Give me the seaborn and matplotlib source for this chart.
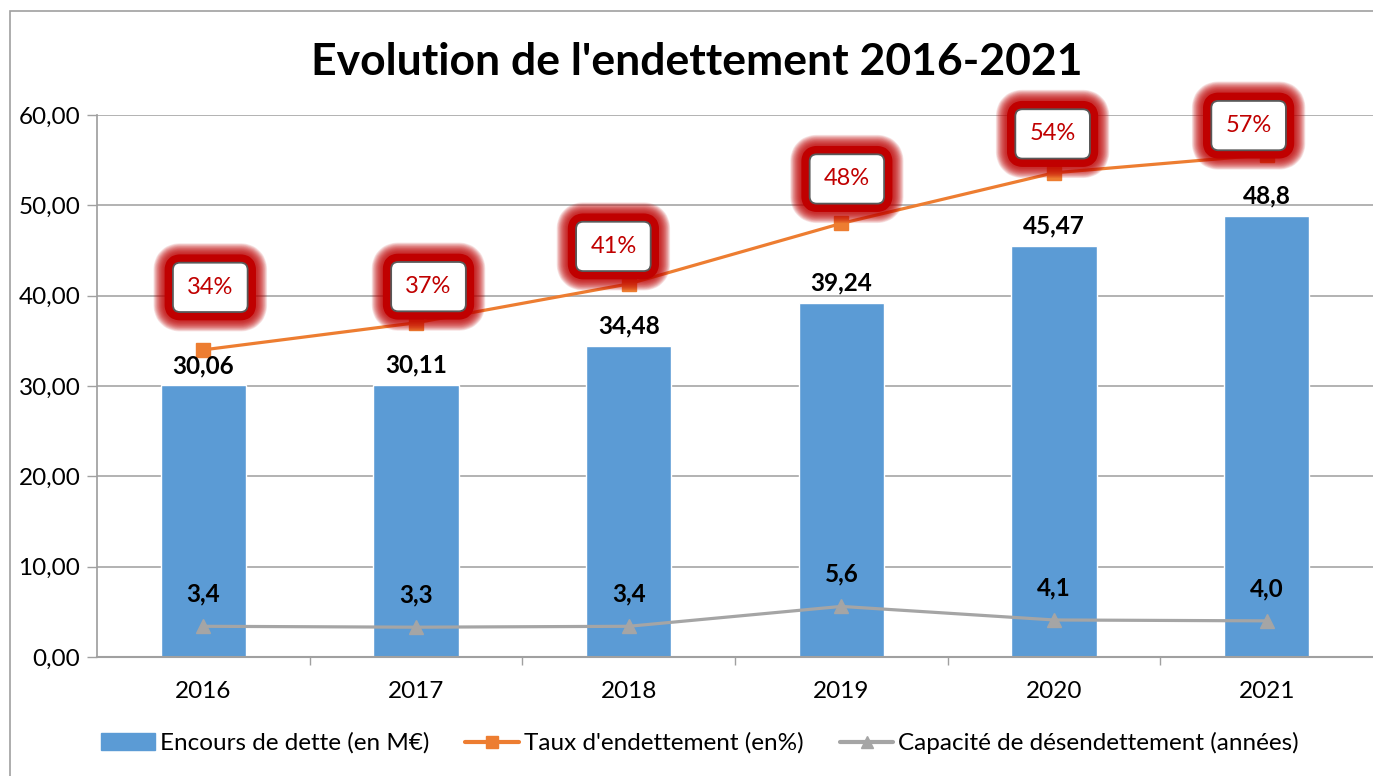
import numpy as np
import pandas as pd
import matplotlib
matplotlib.use("Agg")
import matplotlib.pyplot as plt
import matplotlib.patheffects as pe
from matplotlib.lines import Line2D
from matplotlib.patches import Patch, Rectangle
import seaborn as sns

# ---- data ----
years = ["2016", "2017", "2018", "2019", "2020", "2021"]
encours = [30.06, 30.11, 34.48, 39.24, 45.47, 48.8]
encours_labels = ["30,06", "30,11", "34,48", "39,24", "45,47", "48,8"]
taux = [34.0, 37.0, 41.3, 48.0, 53.6, 55.6]
taux_labels = ["34%", "37%", "41%", "48%", "54%", "57%"]
capacite = [3.4, 3.3, 3.4, 5.6, 4.1, 4.0]
capacite_labels = ["3,4", "3,3", "3,4", "5,6", "4,1", "4,0"]

# label box offsets (points) for the percentage callouts
taux_offsets = [(5, 45), (9, 26), (-11, 27), (4, 32), (-1, 28), (-13, 21)]

BLUE = "#5B9BD5"
ORANGE = "#ED7D31"
GREY = "#A5A5A5"
RED = "#C00000"

sns.set_theme(style="white")
plt.rcParams["font.family"] = ["Lato", "DejaVu Sans"]
plt.rcParams["text.color"] = "black"

df = pd.DataFrame({"annee": years, "encours": encours})

fig = plt.figure(figsize=(13.73, 7.76), dpi=100)
ax = fig.add_axes([97 / 1373, 1 - 657 / 776, 1 - 97 / 1373, (657 - 115) / 776])

sns.barplot(data=df, x="annee", y="encours", color=BLUE, saturation=1,
            width=0.4, ax=ax, zorder=2)

x = np.arange(len(years))
ax.plot(x, taux, color=ORANGE, lw=2.3, marker="s", ms=9.5, zorder=4)
ax.plot(x, capacite, color=GREY, lw=2.3, marker="^", ms=9.5, zorder=4)

# bar value labels
for xi, v, lab in zip(x, encours, encours_labels):
    ax.annotate(lab, (xi, v), xytext=(0, 6), textcoords="offset points",
                ha="center", va="bottom", fontsize=17.5, fontweight="bold",
                color="black", zorder=5)

# capacite labels
for xi, v, lab in zip(x, capacite, capacite_labels):
    ax.annotate(lab, (xi, v), xytext=(0, 15), textcoords="offset points",
                ha="center", va="bottom", fontsize=17.5, fontweight="bold",
                color="black", zorder=5)

# percentage callouts with soft red glow
glow = []
for w in range(28, 13, -1):
    glow.append(pe.Stroke(linewidth=w, foreground=RED, alpha=0.1, joinstyle="round"))
glow.append(pe.Stroke(linewidth=12, foreground=RED, alpha=1.0, joinstyle="round"))
glow.append(pe.Normal())
for xi, v, lab, off in zip(x, taux, taux_labels, taux_offsets):
    t = ax.annotate(lab, (xi, v), xytext=off, textcoords="offset points",
                    ha="center", va="center", fontsize=17, color=RED, zorder=6,
                    bbox=dict(boxstyle="round,pad=0.6,rounding_size=0.3",
                              fc="white", ec="#595959", lw=1.3))
    t.get_bbox_patch().set_path_effects(glow)

ax.set_ylim(0, 60)
ax.set_xlim(-0.5, len(years) - 0.5)
ax.set_yticks(np.arange(0, 61, 10))
ax.set_yticklabels([f"{v:.2f}".replace(".", ",") for v in np.arange(0, 61, 10)])
ax.set_xticks(np.arange(0.5, len(years) - 0.5), minor=True)
ax.tick_params(axis="x", which="major", length=0, labelsize=17.5, pad=17, colors="black")
ax.tick_params(axis="x", which="minor", length=6, width=1, color="#A0A0A0", direction="out", bottom=True)
ax.tick_params(axis="y", length=7, width=1, color="#A0A0A0", direction="out", left=True,
               labelsize=17.5, colors="black", pad=5)
ax.grid(axis="y", color="#A6A6A6", lw=1.2, zorder=0)
ax.set_axisbelow(True)
ax.set_xlabel("")
ax.set_ylabel("")
for s in ["top", "right"]:
    ax.spines[s].set_visible(False)
ax.spines["left"].set_color("#A0A0A0")
ax.spines["bottom"].set_color("#A0A0A0")
ax.spines["bottom"].set_linewidth(1.5)

fig.text(697 / 1373, 1 - 62 / 776, "Evolution de l'endettement 2016-2021",
         ha="center", va="center", fontsize=32, fontweight="bold", color="black")

handles = [
    Patch(color=BLUE, label="Encours de dette (en M€)"),
    Line2D([], [], color=ORANGE, lw=3, marker="s", ms=9, label="Taux d'endettement (en%)"),
    Line2D([], [], color=GREY, lw=3, marker="^", ms=9, label="Capacité de désendettement (années)"),
]
fig.legend(handles=handles, loc="center", bbox_to_anchor=(700 / 1373, 1 - 743 / 776),
           ncol=3, frameon=False, fontsize=17.5, handlelength=2.2, handletextpad=0.2,
           columnspacing=1.5)

# chart area border
fig.patches.append(Rectangle((10 / 1373, -0.1), 1.2, 1.1 - 11 / 776, transform=fig.transFigure,
                             fill=False, ec="#A0A0A0", lw=1.2, zorder=0))

fig.savefig("out.png", dpi=100)
